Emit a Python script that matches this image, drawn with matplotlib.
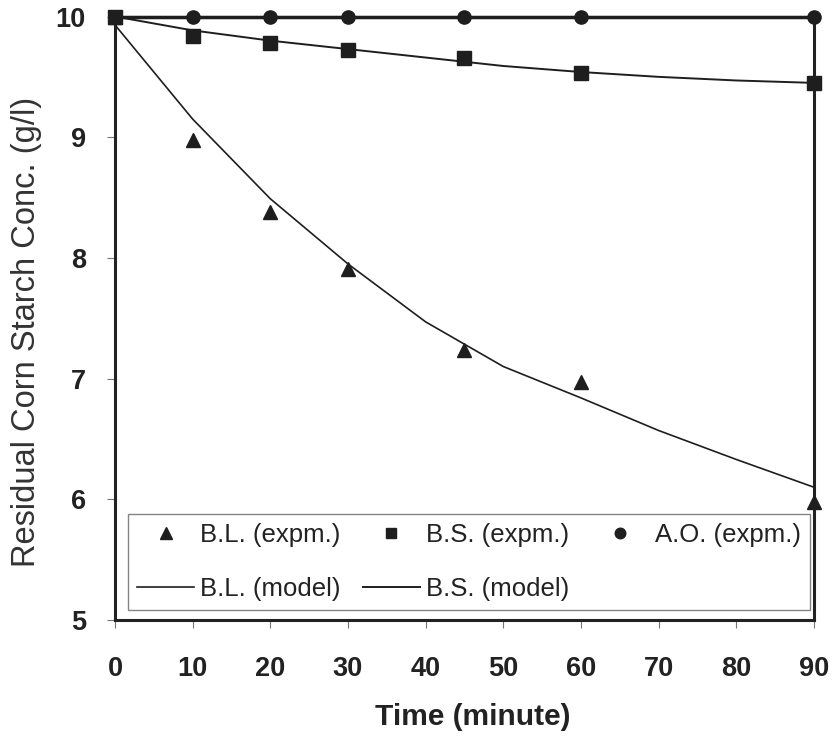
import matplotlib
matplotlib.use("Agg")
import matplotlib.pyplot as plt

# ---------------------------------------------------------------------------
# Data
# ---------------------------------------------------------------------------
t_expm = [0, 10, 20, 30, 45, 60, 90]
bl_expm = [10.0, 8.98, 8.38, 7.91, 7.24, 6.97, 5.98]
bs_expm = [10.0, 9.84, 9.78, 9.72, 9.66, 9.53, 9.45]
ao_expm = [10.0, 10.0, 10.0, 10.0, 10.0, 10.0, 10.0]

t_model = [0, 10, 20, 30, 40, 50, 60, 70, 80, 90]
bl_model = [9.93, 9.15, 8.49, 7.95, 7.47, 7.10, 6.84, 6.57, 6.33, 6.10]
bs_model = [10.0, 9.885, 9.80, 9.73, 9.66, 9.59, 9.54, 9.50, 9.47, 9.45]

x_ticks = [0, 10, 20, 30, 40, 50, 60, 70, 80, 90]
y_ticks = [5, 6, 7, 8, 9, 10]

# ---------------------------------------------------------------------------
# Figure
# ---------------------------------------------------------------------------
plt.rcParams['font.family'] = ['Liberation Sans', 'DejaVu Sans']

fig = plt.figure(figsize=(8.37, 7.4), dpi=100)
ax = fig.add_axes([0.1374, 0.1622, 0.835, 0.8155])

ink = '#1e1e1e'

h_bl, = ax.plot(t_expm, bl_expm, linestyle='none', marker='^', ms=10.5,
                color=ink, clip_on=False, zorder=5)
h_bs, = ax.plot(t_expm, bs_expm, linestyle='none', marker='s', ms=9.5,
                color=ink, clip_on=False, zorder=5)
ax.plot(t_expm, ao_expm, color=ink, lw=2.5, clip_on=False, zorder=4)
h_ao, = ax.plot(t_expm, ao_expm, linestyle='none', marker='o', ms=9.5,
                color=ink, clip_on=False, zorder=5)
h_blm, = ax.plot(t_model, bl_model, color=ink, lw=1.2, zorder=3)
h_bsm, = ax.plot(t_model, bs_model, color=ink, lw=1.4, zorder=3)

ax.set_xlim(0, 90)
ax.set_ylim(5, 10)
ax.set_xticks(x_ticks)
ax.set_yticks(y_ticks)

for sp in ax.spines.values():
    sp.set_linewidth(2.2)
    sp.set_color('#222222')

ax.tick_params(axis='x', direction='out', length=6, width=0.8, color='#777777',
               pad=20, labelsize=19.5, labelcolor='#222222')
ax.tick_params(axis='y', direction='out', length=6, width=0.8, color='#777777',
               pad=15, labelsize=19.5, labelcolor='#222222')
for lab in ax.get_xticklabels() + ax.get_yticklabels():
    lab.set_fontweight('bold')

ax.set_xlabel('Time (minute)', fontsize=21.5, fontweight='bold', color='#222222')
ax.xaxis.set_label_coords(0.512, -0.138)
ax.set_ylabel('Residual Corn Starch Conc. (g/l)', fontsize=23.5, color='#333333')
ax.yaxis.set_label_coords(-0.104, 0.477)

leg = ax.legend(
    [h_bl, h_blm, h_bs, h_bsm, h_ao],
    ['B.L. (expm.)', 'B.L. (model)', 'B.S. (expm.)', 'B.S. (model)', 'A.O. (expm.)'],
    ncol=3, loc='lower left', bbox_to_anchor=(0.019, 0.0166, 0.975, 0.157),
    mode='expand', borderaxespad=0, fontsize=18.5, frameon=True, fancybox=False,
    handlelength=2.2, handletextpad=0.25, columnspacing=1.0, labelspacing=1.15,
    borderpad=0.35, markerscale=0.8,
)
leg.get_frame().set_edgecolor('#666666')
leg.get_frame().set_linewidth(1.0)
for txt in leg.get_texts():
    txt.set_color('#222222')

fig.savefig('out.png', dpi=100)
